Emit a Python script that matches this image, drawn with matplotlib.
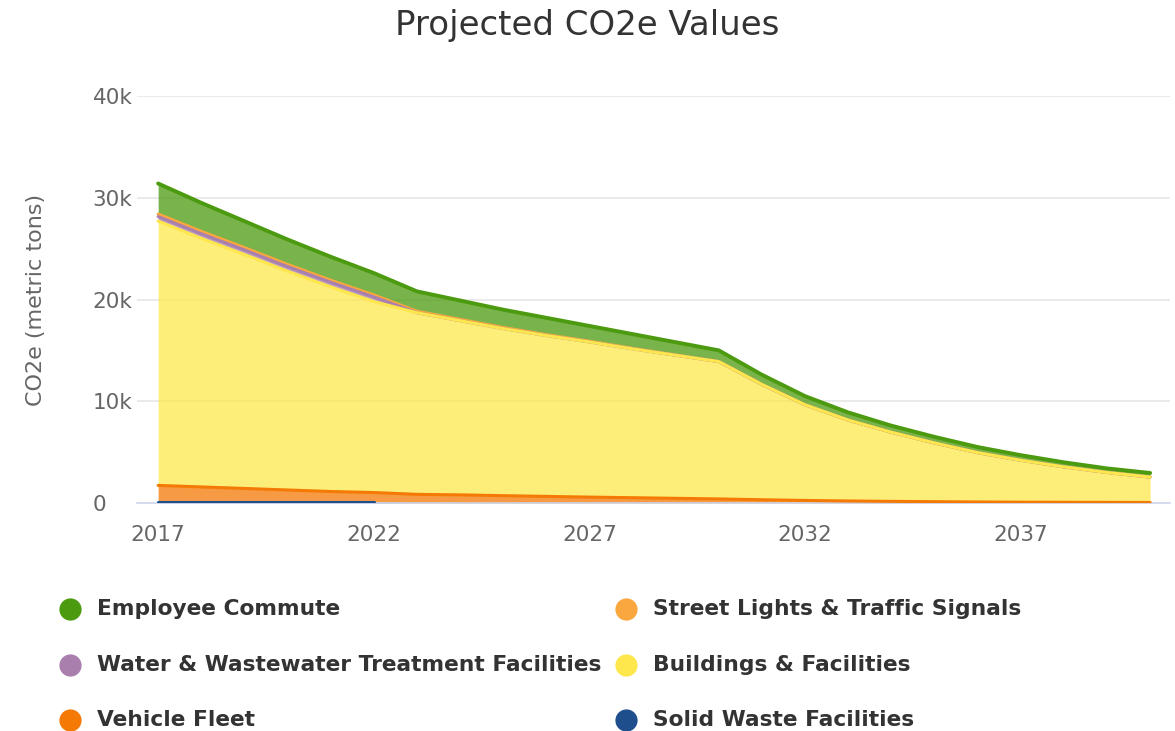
"""
Projected CO2e values by sector, stacked area (Highcharts look-alike).
"""

import numpy as np
import matplotlib
matplotlib.use('Agg')
import matplotlib.pyplot as plt
from matplotlib.lines import Line2D
from matplotlib.ticker import FuncFormatter

plt.rcParams['font.family'] = ['DejaVu Sans']

years = list(range(2017, 2041))

# metric tons CO2e
solid_waste = [80, 80, 80, 80, 80, 80] + [np.nan] * 18
vehicle_fleet = [1650, 1500, 1350, 1200, 1050, 950, 850, 800, 720, 650, 580, 520,
                 460, 400, 320, 250, 200, 160, 130, 100, 80, 70, 60, 50]
buildings = [25970, 24430, 22990, 21500, 20110, 18770, 17850, 17120, 16420, 15810,
             15250, 14630, 14060, 13500, 11330, 9400, 7950, 6790, 5770, 4850,
             4120, 3480, 2940, 2500]
water = [450, 450, 450, 450, 450, 450] + [0] * 18
street_lights = [250, 240, 230, 220, 210, 200, 150, 130, 110, 90, 70, 50, 30] + [0] * 11
employee_commute = [3000, 2800, 2600, 2450, 2300, 2150, 1950, 1850, 1750, 1650, 1500,
                    1400, 1250, 1100, 950, 850, 750, 650, 600, 550, 500, 450, 400, 400]

# bottom to top
series = [
    ('Solid Waste Facilities', solid_waste, '#1f4e8c'),
    ('Vehicle Fleet', vehicle_fleet, '#f47a05'),
    ('Buildings & Facilities', buildings, '#fde74c'),
    ('Water & Wastewater Treatment Facilities', water, '#a97fae'),
    ('Street Lights & Traffic Signals', street_lights, '#f9a73e'),
    ('Employee Commute', employee_commute, '#4c9a0f'),
]

fig = plt.figure(figsize=(11.75, 7.31), dpi=100)
ax = fig.add_axes([137 / 1175, 1 - 503 / 731, (1170 - 137) / 1175, (503 - 96) / 731])

x = np.array(years)
base = np.zeros(len(years))
tops = []
for name, vals, color in series:
    v = np.array(vals, dtype=float)
    top = base + np.nan_to_num(v)
    ax.fill_between(x, base, top, color=color, alpha=0.75, linewidth=0, zorder=2)
    line = np.where(np.isnan(v), np.nan, top)
    tops.append((line, color))
    base = top

# outlines: top series first so lower ones sit on top (highcharts draw order)
for i, (line, color) in enumerate(reversed(tops)):
    lw = 2.8 if i == 0 else 2.2
    ax.plot(x, line, color=color, linewidth=lw, zorder=3 + i, solid_capstyle='round')

ax.set_xlim(2016.51, 2040.46)
ax.set_ylim(0, 40000)
ax.set_yticks([0, 10000, 20000, 30000, 40000])
ax.yaxis.set_major_formatter(FuncFormatter(lambda v, p: '0' if v == 0 else f'{int(v / 1000)}k'))
ax.set_xticks([2017, 2022, 2027, 2032, 2037])

ax.grid(axis='y', color='#e6e6e6', linewidth=1.2, zorder=0)
ax.set_axisbelow(True)
for s in ['top', 'right', 'left']:
    ax.spines[s].set_visible(False)
ax.spines['bottom'].set_color('#ccd6eb')
ax.spines['bottom'].set_linewidth(1.2)
ax.tick_params(axis='both', length=0, labelsize=15.5, labelcolor='#666666')
ax.tick_params(axis='x', pad=16)
ax.tick_params(axis='y', pad=32)
for lab in ax.get_yticklabels():
    lab.set_horizontalalignment('left')

ax.set_ylabel('CO2e (metric tons)', fontsize=16, color='#666666')
ax.yaxis.set_label_coords(-0.088, 0.5)

fig.text(0.5, 1 - 26 / 731, 'Projected CO2e Values', ha='center', va='center',
         fontsize=24.5, color='#333333')

# legend, two columns, highcharts order
legend_items = [
    ('Employee Commute', '#4c9a0f', 70, 609),
    ('Street Lights & Traffic Signals', '#f9a73e', 626, 609),
    ('Water & Wastewater Treatment Facilities', '#a97fae', 70, 665),
    ('Buildings & Facilities', '#fde74c', 626, 665),
    ('Vehicle Fleet', '#f47a05', 70, 720),
    ('Solid Waste Facilities', '#1f4e8c', 626, 720),
]
for name, color, px, py in legend_items:
    fx, fy = px / 1175, 1 - py / 731
    fig.add_artist(Line2D([fx], [fy], marker='o', markersize=16, color=color,
                          markeredgewidth=0, transform=fig.transFigure))
    fig.text(fx + 27 / 1175, fy, name, ha='left', va='center', fontsize=15.7,
             fontweight='bold', color='#333333')

fig.savefig('out.png', dpi=100)
